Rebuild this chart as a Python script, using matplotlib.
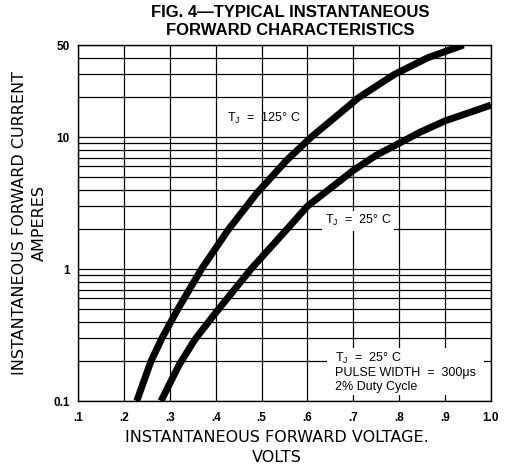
import numpy as np
import matplotlib.pyplot as plt
from matplotlib.ticker import FixedLocator, FixedFormatter, LogLocator, NullFormatter
from matplotlib.patches import Rectangle

plt.rcParams['font.family'] = ['Liberation Sans', 'DejaVu Sans']
plt.rcParams['mathtext.default'] = 'regular'

# forward curves (volts, amperes)
v_125 = [0.228, 0.259, 0.283, 0.318, 0.369, 0.428, 0.489, 0.555, 0.608, 0.712, 0.79, 0.862, 0.94]
i_125 = [0.1, 0.2, 0.3, 0.5, 1.0, 2.0, 3.74, 6.7, 10.0, 20.0, 30.0, 40.0, 50.0]

v_25 = [0.281, 0.320, 0.354, 0.385, 0.407, 0.477, 0.555, 0.60, 0.70, 0.75, 0.80, 0.845, 0.90, 1.0]
i_25 = [0.1, 0.187, 0.29, 0.4, 0.5, 1.0, 2.0, 3.0, 5.6, 7.3, 9.0, 10.9, 13.3, 17.5]

x_ticks = [0.1, 0.2, 0.3, 0.4, 0.5, 0.6, 0.7, 0.8, 0.9, 1.0]
x_labels = ['.1', '.2', '.3', '.4', '.5', '.6', '.7', '.8', '.9', '1.0']
y_ticks = [0.1, 1, 10, 50]
y_labels = ['0.1', '1', '10', '50']

fig = plt.figure(figsize=(5.06, 4.67), dpi=100)
ax = fig.add_axes([78/506, 66/467, 413/506, 356/467])
ax.set_yscale('log')
ax.set_xlim(0.1, 1.0)
ax.set_ylim(0.1, 50)

ax.xaxis.set_major_locator(FixedLocator(x_ticks))
ax.xaxis.set_major_formatter(FixedFormatter(x_labels))
ax.yaxis.set_major_locator(FixedLocator(y_ticks))
ax.yaxis.set_major_formatter(FixedFormatter(y_labels))
ax.yaxis.set_minor_locator(LogLocator(base=10, subs=np.arange(1, 10)))
ax.yaxis.set_minor_formatter(NullFormatter())
ax.tick_params(which='both', length=0)
ax.tick_params(axis='x', pad=8)
ax.tick_params(axis='y', pad=6)
for lab in ax.get_xticklabels() + ax.get_yticklabels():
    lab.set_fontweight('bold')
    lab.set_fontsize(8.5)

ax.grid(True, which='both', color='black', lw=0.9)
ax.set_axisbelow(True)
for s in ax.spines.values():
    s.set_linewidth(1.0)

ax.plot(v_125, i_125, color='black', lw=5, solid_joinstyle='round', solid_capstyle='butt', zorder=3)
ax.plot(v_25, i_25, color='black', lw=5, solid_joinstyle='round', solid_capstyle='butt', zorder=3)

ax.text(0.450, 0.795, 'T$_J$  =  125° C', transform=ax.transAxes, fontsize=9,
        ha='center', va='center', zorder=4)
ax.text(0.678, 0.506, 'T$_J$  =  25° C', transform=ax.transAxes, fontsize=9,
        ha='center', va='center', zorder=4,
        bbox=dict(facecolor='white', edgecolor='none', pad=2))

ax.add_patch(Rectangle((0.603, 0.017), 0.380, 0.132, transform=ax.transAxes,
                       facecolor='white', edgecolor='none', zorder=2.5))
ax.text(0.622, 0.082, 'T$_J$  =  25° C\nPULSE WIDTH  =  300μs\n2% Duty Cycle',
        transform=ax.transAxes, fontsize=9, ha='left', va='center',
        linespacing=1.15, zorder=4)

fig.text(290/506, 1 - 12.5/467, 'FIG. 4—TYPICAL INSTANTANEOUS', fontsize=12,
         fontweight='bold', ha='center', va='center')
fig.text(290/506, 1 - 30.5/467, 'FORWARD CHARACTERISTICS', fontsize=12,
         fontweight='bold', ha='center', va='center')

fig.text(277/506, 1 - 437/467, 'INSTANTANEOUS FORWARD VOLTAGE.', fontsize=11.5,
         family='DejaVu Sans', ha='center', va='center')
fig.text(277/506, 1 - 457/467, 'VOLTS', fontsize=11.5,
         family='DejaVu Sans', ha='center', va='center')
fig.text(20/506, 1 - 223/467, 'INSTANTANEOUS FORWARD CURRENT', fontsize=11.5,
         family='DejaVu Sans', rotation=90, ha='center', va='center')
fig.text(39/506, 1 - 223/467, 'AMPERES', fontsize=11.5,
         family='DejaVu Sans', rotation=90, ha='center', va='center')

fig.savefig('out.png', dpi=100)
